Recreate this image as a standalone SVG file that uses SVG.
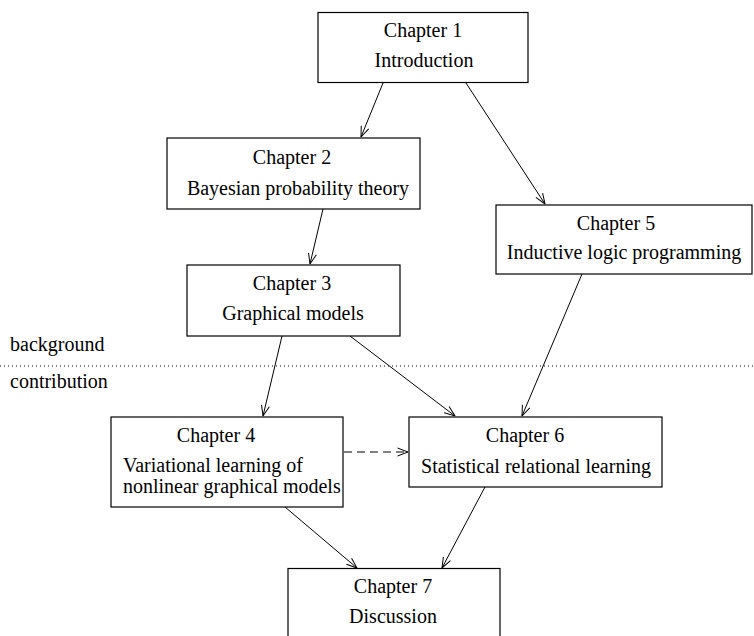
<svg xmlns="http://www.w3.org/2000/svg" width="754" height="636" viewBox="0 0 754 636">
<defs>
<style>
.box{fill:#fff;stroke:#000;stroke-width:1.2}
.t{font-family:"Liberation Serif","Times New Roman",serif;font-size:20px;fill:#000}
.m{text-anchor:middle}
.e{fill:none;stroke:#000;stroke-width:1}
.d{stroke-dasharray:8,5}
</style>
<marker id="arr" viewBox="0 0 12 10" refX="11.5" refY="5" markerWidth="12" markerHeight="10" markerUnits="userSpaceOnUse" orient="auto">
<path d="M1,1 L11.5,5 L1,9" fill="none" stroke="#000" stroke-width="1"/>
</marker>
</defs>
<rect width="754" height="636" fill="#fff"/>
<g id="divider">
<line x1="0" y1="366" x2="754" y2="366" stroke="#000" stroke-width="1" stroke-dasharray="1,3"/>
<text class="t" x="10" y="351">background</text>
<text class="t" x="10" y="388">contribution</text>
</g>
<g id="connectors">
<line class="e" x1="383" y1="83" x2="361" y2="137" marker-end="url(#arr)"/>
<line class="e" x1="466" y1="83" x2="545" y2="204" marker-end="url(#arr)"/>
<line class="e" x1="323" y1="209" x2="310" y2="264" marker-end="url(#arr)"/>
<line class="e" x1="282" y1="336" x2="263" y2="416" marker-end="url(#arr)"/>
<line class="e" x1="350" y1="336" x2="455" y2="416" marker-end="url(#arr)"/>
<line class="e" x1="582" y1="274" x2="522" y2="416" marker-end="url(#arr)"/>
<line class="e d" x1="344" y1="452" x2="408" y2="452" marker-end="url(#arr)"/>
<line class="e" x1="285" y1="507" x2="357" y2="568" marker-end="url(#arr)"/>
<line class="e" x1="485" y1="487" x2="442" y2="568" marker-end="url(#arr)"/>
</g>
<g id="ch1">
<rect class="box" x="318" y="12.5" width="210" height="70"/>
<text class="t m" x="423" y="37">Chapter 1</text>
<text class="t m" x="424" y="67">Introduction</text>
</g>
<g id="ch2">
<rect class="box" x="167" y="138" width="253" height="71"/>
<text class="t m" x="292" y="164">Chapter 2</text>
<text class="t m" x="298" y="195">Bayesian probability theory</text>
</g>
<g id="ch3">
<rect class="box" x="187" y="265" width="213" height="71"/>
<text class="t m" x="292" y="290">Chapter 3</text>
<text class="t m" x="293" y="320">Graphical models</text>
</g>
<g id="ch5">
<rect class="box" x="496" y="205" width="256" height="69"/>
<text class="t m" x="616" y="230">Chapter 5</text>
<text class="t m" x="624" y="259">Inductive logic programming</text>
</g>
<g id="ch4">
<rect class="box" x="111" y="417" width="232" height="90"/>
<text class="t m" x="216" y="442">Chapter 4</text>
<text class="t" x="123" y="472">Variational learning of</text>
<text class="t" x="123" y="493">nonlinear graphical models</text>
</g>
<g id="ch6">
<rect class="box" x="409" y="417" width="253" height="70"/>
<text class="t m" x="525" y="442">Chapter 6</text>
<text class="t m" x="536" y="473">Statistical relational learning</text>
</g>
<g id="ch7">
<rect class="box" x="288" y="568.5" width="212" height="80"/>
<text class="t m" x="393" y="593">Chapter 7</text>
<text class="t m" x="393" y="623">Discussion</text>
</g>
</svg>
